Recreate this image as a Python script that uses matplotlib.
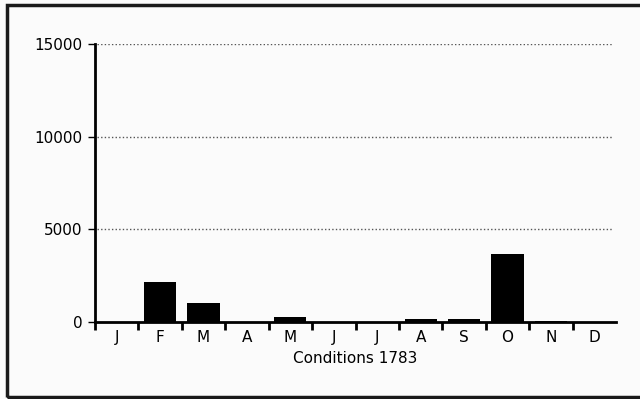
import matplotlib.pyplot as plt
from matplotlib.patches import Rectangle

# Datos
meses = ["J", "F", "M", "A", "M", "J", "J", "A", "S", "O", "N", "D"]
valores = [0, 2180, 1030, 0, 290, 0, 0, 140, 140, 3670, 30, 0]
marcas_y = [0, 5000, 10000, 15000]
titulo_x = "Conditions 1783"

fig = plt.figure(figsize=(6.4, 3.99), dpi=100)
fig.patch.set_facecolor("#fbfbfb")

# Marco exterior
marco = Rectangle((7 / 640, 2 / 399), 640 / 640, 392 / 399, transform=fig.transFigure,
                  fill=False, edgecolor="#1a1a1a", linewidth=2.5)
fig.patches.append(marco)

ax = fig.add_axes([95 / 640, 1 - 322 / 399, 521 / 640, 278 / 399])
ax.set_facecolor("none")

posiciones = [i + 0.5 for i in range(len(meses))]
ax.bar(posiciones, valores, width=0.74, color="black")

ax.set_xlim(0, 12)
ax.set_ylim(0, 15000)

# Lineas de cuadricula punteadas
for v in marcas_y[1:]:
    ax.plot([0.05, 11.93], [v, v], linestyle=(0, (1, 1.6)), color="#555555", linewidth=1)

ax.spines["top"].set_visible(False)
ax.spines["right"].set_visible(False)
ax.spines["left"].set_linewidth(2)
ax.spines["bottom"].set_linewidth(2)

ax.set_xticks(range(12))
ax.set_xticklabels([])
ax.set_xticks(posiciones, minor=True)
ax.set_xticklabels(meses, minor=True, fontsize=11)
ax.tick_params(axis="x", which="major", direction="out", length=6, width=2)
ax.tick_params(axis="x", which="minor", length=0, pad=6)

ax.set_yticks(marcas_y)
ax.set_yticklabels([str(v) for v in marcas_y], fontsize=11)
ax.tick_params(axis="y", direction="out", length=5, width=1, pad=4)

ax.set_xlabel(titulo_x, fontsize=11, labelpad=4)

plt.savefig("out.png", dpi=100, facecolor=fig.get_facecolor())
